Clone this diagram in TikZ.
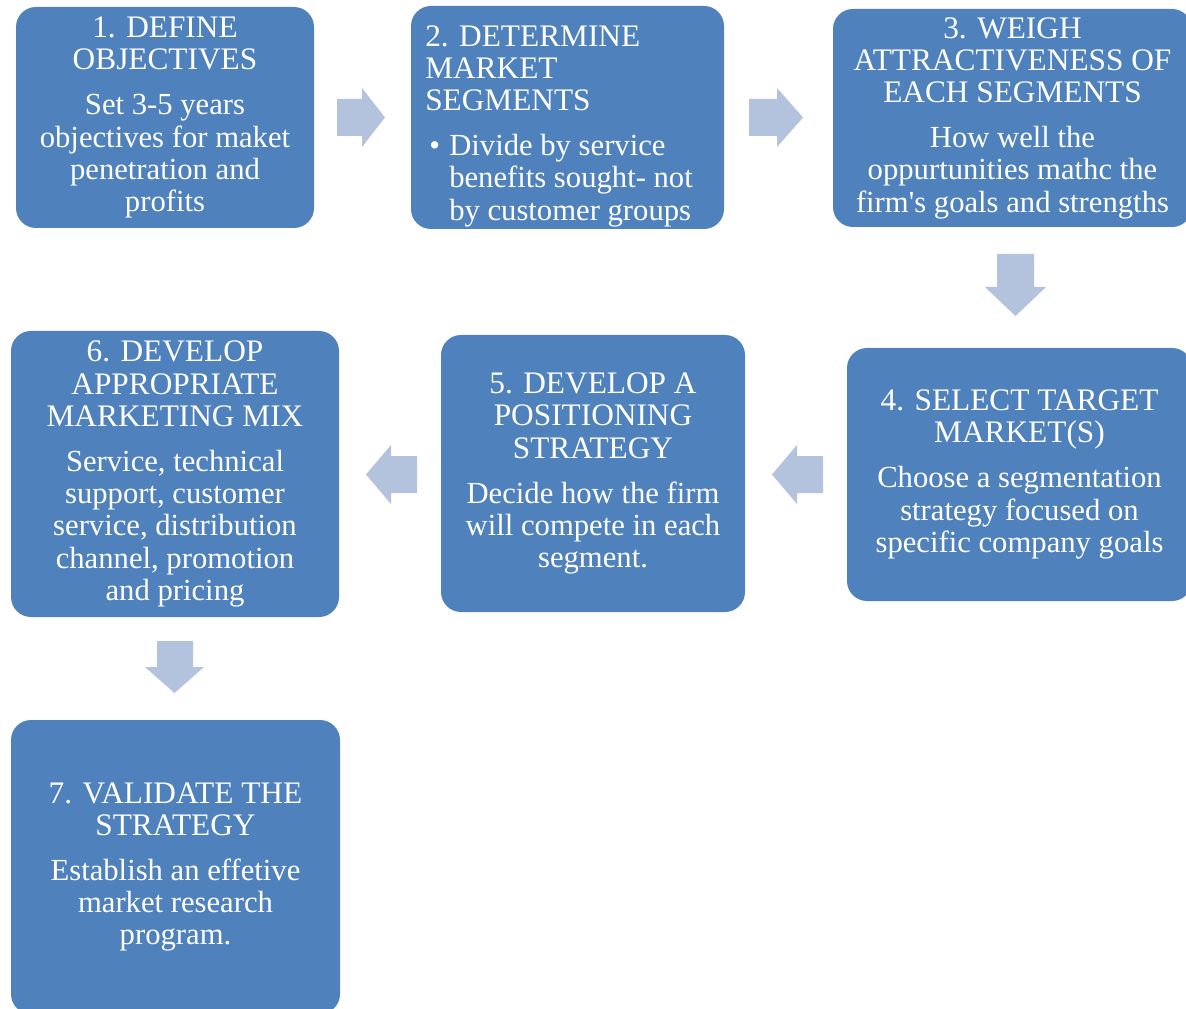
\documentclass[tikz,border=0pt]{standalone}
\usepackage{fontspec}
\setmainfont{Liberation Serif}[Ligatures=TeXOff]
\definecolor{boxc}{HTML}{4F81BD}
\definecolor{arrc}{HTML}{B3C2DD}
\newcommand\hdl[1]{{\fontsize{23.5pt}{24.2pt}\selectfont #1}}
\tikzset{
  stepbox/.style={rectangle, rounded corners=15pt, fill=boxc, inner sep=0pt, text=white, align=center, font=\fontsize{23pt}{24.2pt}\selectfont},
  steptext/.style={inner sep=0pt, text=white, font=\fontsize{23pt}{24.2pt}\selectfont},
  blockarrow/.style={fill=arrc},
}
\begin{document}
\begin{tikzpicture}[x=0.75pt,y=-0.75pt]
\useasboundingbox (0,0) rectangle (1186,1009);
\clip (0,0) rectangle (1186,1009);
% boxes
\node[stepbox, minimum width=223.5pt, minimum height=165.75pt] (b1) at (165,117.5)
  {\hdl{1. DEFINE}\\\hdl{OBJECTIVES}\\[9.5pt]Set 3-5 years\\objectives for maket\\penetration and\\profits};
\node[stepbox, minimum width=234.75pt, minimum height=167.25pt] (b2) at (567.5,117.5) {};
\node[steptext, anchor=north west, align=left] (t2) at (425,25)
  {\hdl{2. DETERMINE}\\\hdl{MARKET}\\\hdl{SEGMENTS}\\[9.5pt]\makebox[18pt][l]{\hspace*{3pt}•}Divide by service\\\hspace*{18pt}benefits sought- not\\\hspace*{18pt}by customer groups};
\node[stepbox, minimum width=269.25pt, minimum height=163.5pt] (b3) at (1012.5,118)
  {\hdl{3. WEIGH}\\\hdl{ATTRACTIVENESS OF}\\\hdl{EACH SEGMENTS}\\[9.5pt]How well the\\oppurtunities mathc the\\firm's goals and strengths};
\node[stepbox, minimum width=258.75pt, minimum height=189.75pt] (b4) at (1019.5,474.5)
  {\hdl{4. SELECT TARGET}\\\hdl{MARKET(S)}\\[9.5pt]Choose a segmentation\\strategy focused on\\specific company goals};
\node[stepbox, minimum width=228pt, minimum height=207.75pt] (b5) at (593,473.5)
  {\hdl{5. DEVELOP A}\\\hdl{POSITIONING}\\\hdl{STRATEGY}\\[9.5pt]Decide how the firm\\will compete in each\\segment.};
\node[stepbox, minimum width=246pt, minimum height=214.5pt] (b6) at (175,474)
  {\hdl{6. DEVELOP}\\\hdl{APPROPRIATE}\\\hdl{MARKETING MIX}\\[9.5pt]Service, technical\\support, customer\\service, distribution\\channel, promotion\\and pricing};
\node[stepbox, minimum width=246.75pt, minimum height=220.5pt] (b7) at (175.5,867)
  {\hdl{7. VALIDATE THE}\\\hdl{STRATEGY}\\[9.5pt]Establish an effetive\\market research\\program.};
% block arrows
\fill[blockarrow] (337,99) -- (362,99) -- (362,88) -- (385,117.5) -- (362,147) -- (362,136) -- (337,136) -- cycle;
\fill[blockarrow] (749,99) -- (777,99) -- (777,88) -- (803,117.5) -- (777,147) -- (777,136) -- (749,136) -- cycle;
\fill[blockarrow] (997,254) -- (1034,254) -- (1034,287) -- (1046,287) -- (1015.5,316) -- (985,287) -- (997,287) -- cycle;
\fill[blockarrow] (823,456) -- (797,456) -- (797,445) -- (772,474.5) -- (797,504) -- (797,493) -- (823,493) -- cycle;
\fill[blockarrow] (417,456) -- (391,456) -- (391,445) -- (366,474.5) -- (391,504) -- (391,493) -- (417,493) -- cycle;
\fill[blockarrow] (157,641) -- (193,641) -- (193,667) -- (204,667) -- (174.5,693) -- (145,667) -- (157,667) -- cycle;
\end{tikzpicture}
\end{document}
